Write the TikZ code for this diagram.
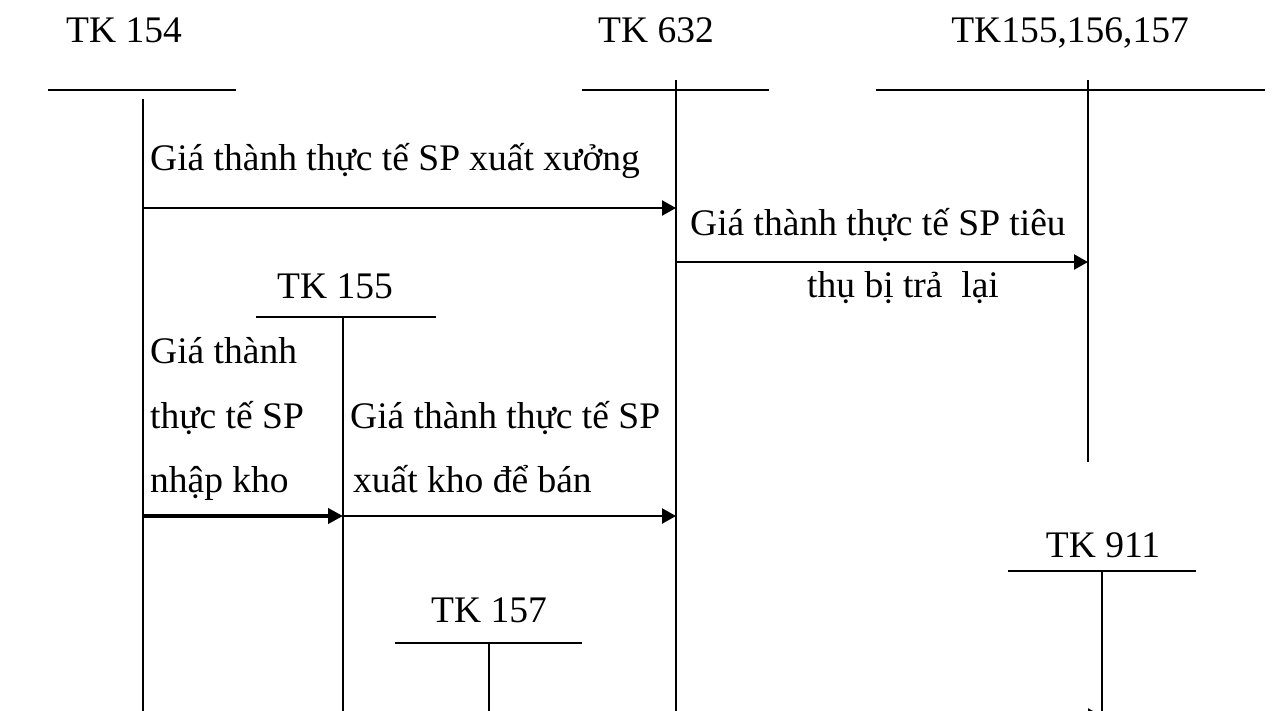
\documentclass[tikz,border=0pt]{standalone}
\usepackage{fontspec}
\setmainfont{Liberation Serif}
\usetikzlibrary{arrows.meta}

\tikzset{
  acct/.style={line width=1.6pt},
  flow/.style={line width=2.4pt, -{Triangle[length=14pt,width=15pt]}},
  heavyflow/.style={line width=4pt, -{Triangle[length=15pt,width=15pt]}},
  title/.style={inner sep=0pt, anchor=base},
  txt/.style={inner sep=0pt, anchor=base west},
}

\begin{document}
\begin{tikzpicture}[x=1pt, y=-1pt, font=\fontsize{37.5pt}{45pt}\selectfont]
\useasboundingbox (0,0) rectangle (1283,710);
\clip (0,0) rectangle (1283,710);

% account titles
\node[title] (t154) at (124,42) {TK 154};
\node[title] (t632) at (656,42) {TK 632};
\node[title] (t155x) at (1070,42) {TK155,156,157};
\node[title] (t155) at (335,298) {TK 155};
\node[title] (t911) at (1103,557) {TK 911};
\node[title] (t157) at (489,622) {TK 157};

% T-accounts: horizontal bar and vertical stem
\draw[acct] (48,90) -- (236,90);
\draw[acct] (143,99) -- (143,715);
\draw[acct] (582,90) -- (769,90);
\draw[acct] (676,80) -- (676,715);
\draw[acct] (876,90) -- (1265,90);
\draw[acct] (1088,80) -- (1088,462);
\draw[acct] (256,317) -- (436,317);
\draw[acct] (343,317) -- (343,715);
\draw[acct] (1008,571) -- (1196,571);
\draw[acct] (1102,571) -- (1102,715);
\draw[acct] (395,643) -- (582,643);
\draw[acct] (489,643) -- (489,715);

% connection points on the stems
\coordinate (a154) at (143,208);
\coordinate (a632) at (676,208);
\coordinate (b632) at (676,262);
\coordinate (b155x) at (1088,262);
\coordinate (c154) at (143,516);
\coordinate (c155) at (343,516);
\coordinate (c632) at (676,516);
\coordinate (d632) at (676,716);
\coordinate (d911) at (1102,716);

% entries
\draw[flow] (a154) -- (a632);
\draw[flow] (b632) -- (b155x);
\draw[heavyflow] (c154) -- (c155);
\draw[flow] (c155) -- (c632);
\draw[flow] (d632) -- (d911);

% entry labels
\node[txt] (l1) at (150,170) {Giá thành thực tế SP xuất xưởng};
\node[txt] (l2a) at (690,235) {Giá thành thực tế SP tiêu};
\node[txt] (l2b) at (807,297) {thụ bị trả\ \ lại};
\node[txt] (l3a) at (150,363) {Giá thành};
\node[txt] (l3b) at (150,428) {thực tế SP};
\node[txt] (l3c) at (150,492) {nhập kho};
\node[txt] (l4a) at (350,428) {Giá thành thực tế SP};
\node[txt] (l4b) at (353,492) {xuất kho để bán};
\end{tikzpicture}
\end{document}
